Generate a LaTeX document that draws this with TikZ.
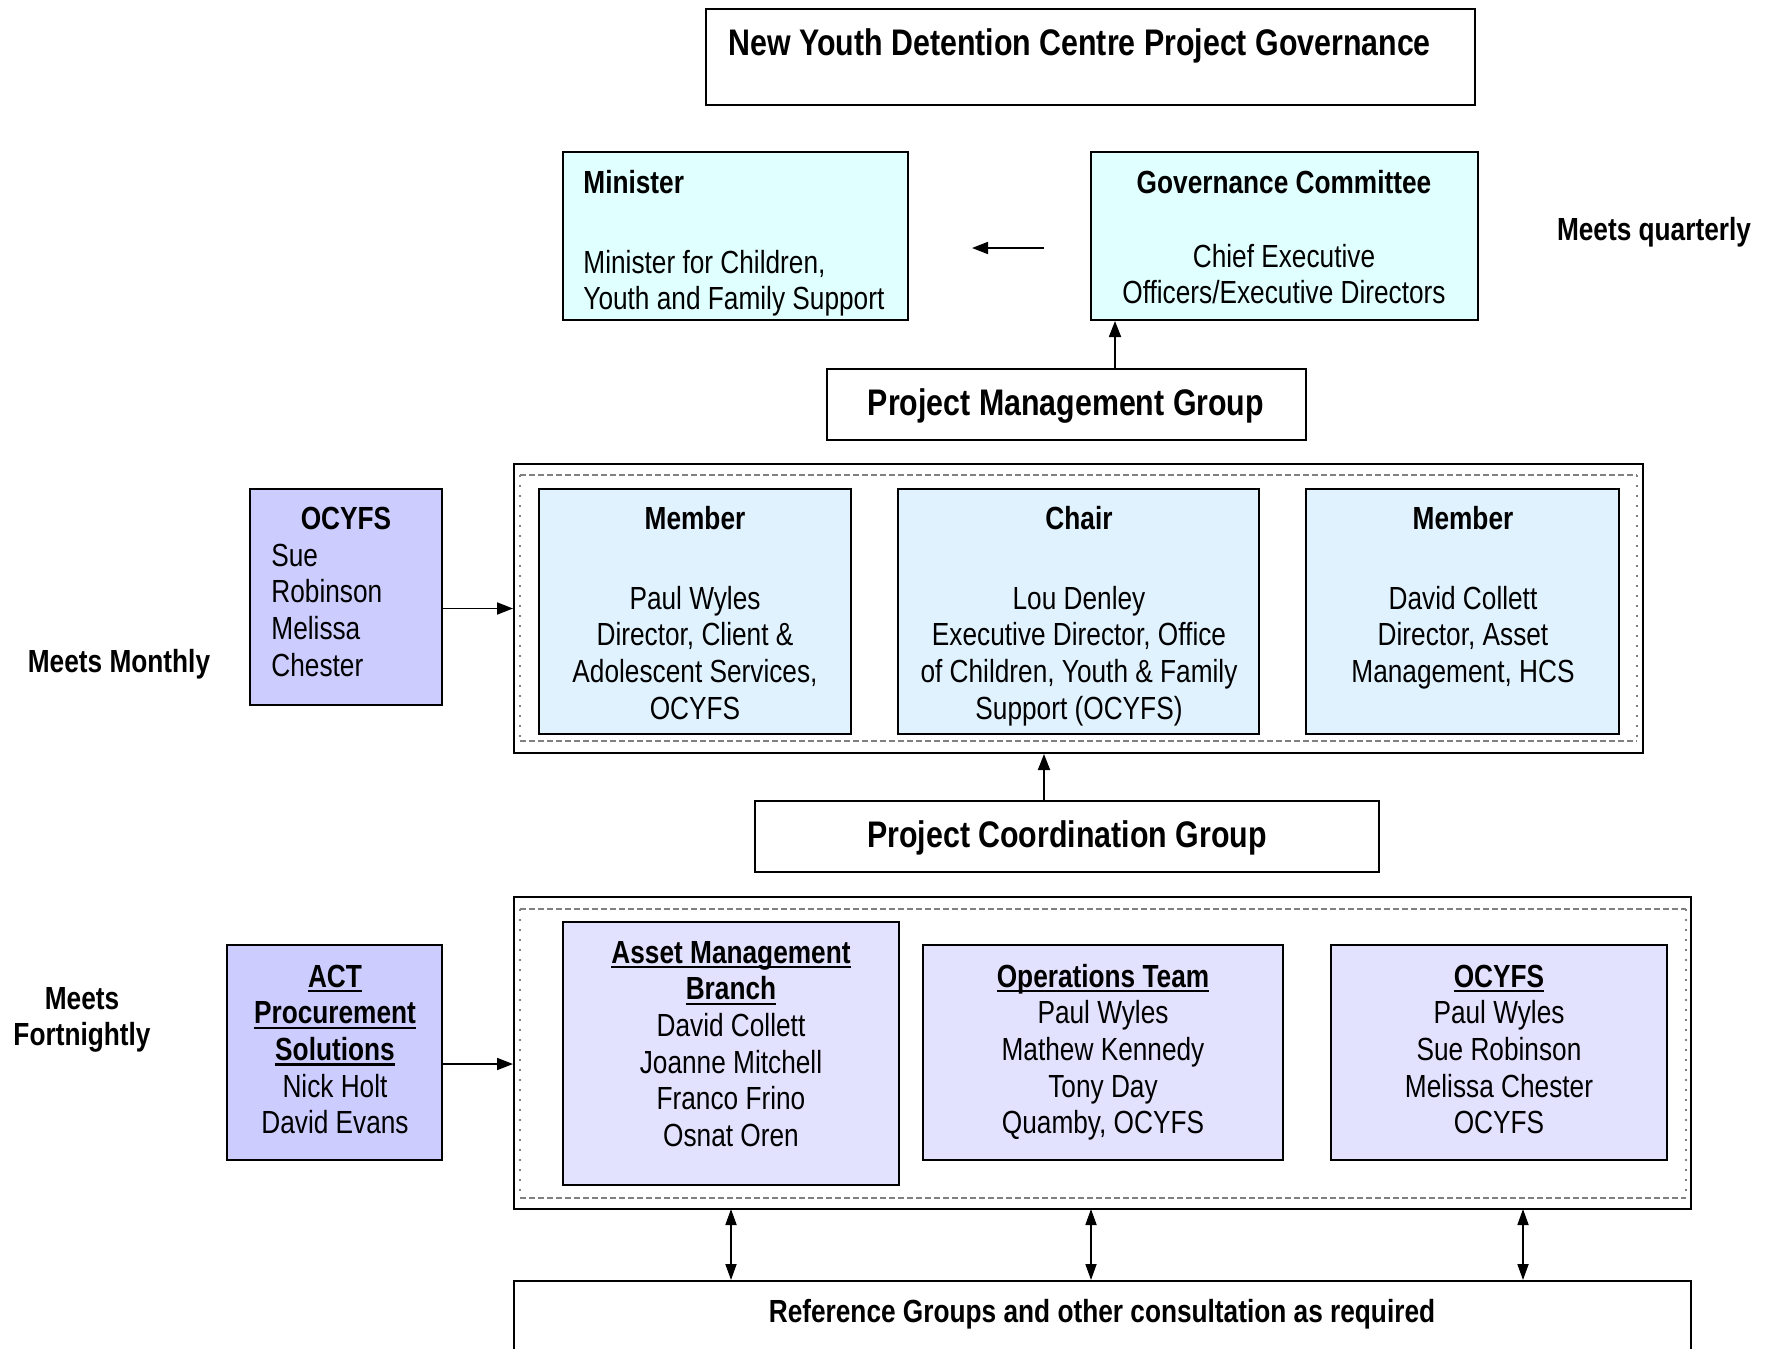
\documentclass[tikz,border=0pt]{standalone}
\usepackage{fontspec}
\setmainfont[FakeStretch=0.82]{Liberation Sans}
\usetikzlibrary{arrows.meta,fit}
\definecolor{cyanfill}{HTML}{E0FFFF}
\definecolor{memfill}{HTML}{E1F2FF}
\definecolor{lavfill}{HTML}{CCCCFF}
\definecolor{lightlav}{HTML}{E2E2FF}
\newcommand\txtsize{\fontsize{16}{18.35}\selectfont}
\newcommand\bigsize{\fontsize{18.5}{21}\selectfont\bfseries}
\newcommand\uln[1]{\setbox0\hbox{#1}\rlap{\rule[-2.6pt]{\wd0}{1.1pt}}\box0}
\newcommand\lines[2]{\begin{tabular}[t]{@{}#1@{}}#2\end{tabular}}
\begin{document}
\begin{tikzpicture}[x=0.5pt,y=-0.5pt,
  box/.style={draw, line width=1pt, inner sep=0pt},
  txt/.style={font=\txtsize, inner sep=0pt, anchor=base},
  head/.style={font=\txtsize\bfseries, inner sep=0pt, anchor=base},
  arr/.style={line width=0.9pt, -{Triangle[length=8pt,width=6pt]}},
  darr/.style={line width=0.9pt, {Triangle[length=8pt,width=5.5pt]}-{Triangle[length=8pt,width=5.5pt]}},
  dashh/.style={draw=gray, line width=0.7pt, dash pattern=on 3pt off 1.5pt},
  dotv/.style={draw=gray, line width=0.7pt, dash pattern=on 1pt off 4pt}]
\useasboundingbox (0,0) rectangle (1769,1349);
\fill[white] (0,0) rectangle (1769,1349);

% Title
\node[box, fit={(706,9) (1475,105)}] (title) {};
\node[font=\bigsize, inner sep=0pt, anchor=base west] (titletext) at (728,55) {New Youth Detention Centre Project Governance};

% Minister
\node[box, fill=cyanfill, fit={(563,152) (908,320)}] (minister) {};
\node[head, anchor=base west] (minh) at (583,193) {Minister};
\begin{scope}
\clip (minister.north west) rectangle ([yshift=3pt]minister.south east);
\node[txt, anchor=base west] (mint) at (583,273) {\lines{l}{Minister for Children,\\Youth and Family Support}};
\end{scope}

% Governance Committee
\node[box, fill=cyanfill, fit={(1091,152) (1478,320)}] (gov) {};
\node[head] (govh) at (1284,193) {Governance Committee};
\node[txt] (govt) at (1284,267) {\lines{c}{Chief Executive\\Officers/Executive Directors}};
\coordinate (gA) at (1044,248);
\coordinate (gB) at (972,248);
\draw[arr] (gA) -- (gB);
\node[head] (quart) at (1654,240) {Meets quarterly};

% Project Management Group
\node[box, fit={(827,369) (1306,440)}] (pmg) {};
\node[font=\bigsize, inner sep=0pt, anchor=base] (pmgt) at (1066,415) {Project Management Group};
\coordinate (p1) at (1115,369);
\draw[arr] (p1) -- (p1 |- gov.south);

% Big box 1
\node[box, fit={(514,464) (1643,753)}] (grp1) {};
\draw[dashh] (520,475) -- (1637,475) (520,741) -- (1637,741);
\draw[dotv] (520,475) -- (520,741) (1637,475) -- (1637,741);

\node[box, fill=memfill, fit={(539,489) (851,734)}] (mem1) {};
\node[head] (mem1h) at (695,529) {Member};
\node[txt] (mem1t) at (695,609) {\lines{c}{Paul Wyles\\Director, Client \&\\Adolescent Services,\\OCYFS}};

\node[box, fill=memfill, fit={(898,489) (1259,734)}] (chair) {};
\node[head] (chairh) at (1079,529) {Chair};
\node[txt] (chairt) at (1079,609) {\lines{c}{Lou Denley\\Executive Director, Office\\of Children, Youth \& Family\\Support (OCYFS)}};

\node[box, fill=memfill, fit={(1306,489) (1619,734)}] (mem2) {};
\node[head] (mem2h) at (1463,529) {Member};
\node[txt] (mem2t) at (1463,609) {\lines{c}{David Collett\\Director, Asset\\Management, HCS}};

% OCYFS left
\node[box, fill=lavfill, fit={(250,489) (442,705)}] (ocl) {};
\node[head] (oclh) at (346,529) {OCYFS};
\node[txt, anchor=base west] (oclt) at (271,566) {\lines{l}{Sue\\Robinson\\Melissa\\Chester}};
\draw[arr] (ocl.east |- grp1.west) -- (grp1.west);
\node[head] (monthly) at (119,672) {Meets Monthly};

% Project Coordination Group
\node[box, fit={(755,801) (1379,872)}] (pcg) {};
\node[font=\bigsize, inner sep=0pt, anchor=base] (pcgt) at (1067,847) {Project Coordination Group};
\coordinate (p2) at (1044,801);
\draw[arr] (p2) -- (p2 |- grp1.south);

% Big box 2
\node[box, fit={(514,897) (1691,1209)}] (grp2) {};
\draw[dashh] (520,909) -- (1686,909) (520,1198) -- (1686,1198);
\draw[dotv] (520,909) -- (520,1198) (1686,909) -- (1686,1198);

\node[box, fill=lightlav, fit={(563,922) (899,1185)}] (asset) {};
\node[txt] (assett) at (731,963) {\lines{c}{\bfseries\uln{Asset Management}\\\bfseries\uln{Branch}\\David Collett\\Joanne Mitchell\\Franco Frino\\Osnat Oren}};

\node[box, fill=lightlav, fit={(923,945) (1283,1160)}] (ops) {};
\node[txt] (opst) at (1103,987) {\lines{c}{\bfseries\uln{Operations Team}\\Paul Wyles\\Mathew Kennedy\\Tony Day\\Quamby, OCYFS}};

\node[box, fill=lightlav, fit={(1331,945) (1667,1160)}] (ocr) {};
\node[txt] (ocrt) at (1499,987) {\lines{c}{\bfseries\uln{OCYFS}\\Paul Wyles\\Sue Robinson\\Melissa Chester\\OCYFS}};

% ACT
\node[box, fill=lavfill, fit={(227,945) (442,1160)}] (act) {};
\node[txt] (actt) at (335,987) {\lines{c}{\bfseries\uln{ACT}\\\bfseries\uln{Procurement}\\\bfseries\uln{Solutions}\\Nick Holt\\David Evans}};
\coordinate (a1) at (442,1064);
\draw[arr] (a1) -- (a1 -| grp2.west);
\node[head] (fort) at (82,1009) {\lines{c}{Meets\\Fortnightly}};

% Reference groups
\node[box, fit={(514,1281) (1691,1380)}] (ref) {};
\node[head] (reft) at (1102,1322) {Reference Groups and other consultation as required};
\coordinate (d1) at (731,1209);
\coordinate (d2) at (1091,1209);
\coordinate (d3) at (1523,1209);
\draw[darr] (d1) -- (d1 |- ref.north);
\draw[darr] (d2) -- (d2 |- ref.north);
\draw[darr] (d3) -- (d3 |- ref.north);
\end{tikzpicture}
\end{document}
